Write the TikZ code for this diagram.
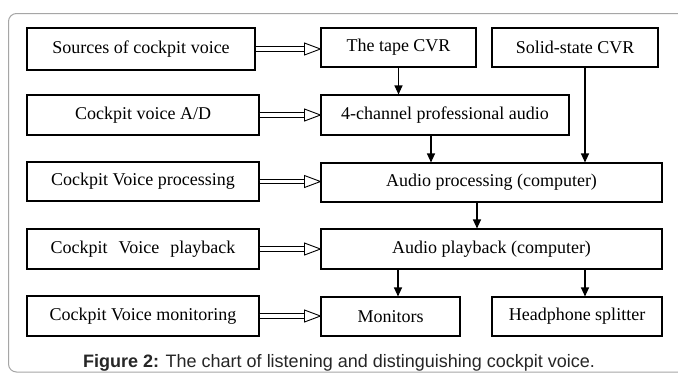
\documentclass[tikz,border=0pt]{standalone}
\usepackage{fontspec}
\setmainfont{Liberation Serif}
\newfontfamily\capfont{Liberation Sans}
\usetikzlibrary{arrows.meta}
\begin{document}
\begin{tikzpicture}[x=1pt,y=-1pt,
  box/.style={draw=black, line width=1.1pt, inner sep=0pt, font=\fontsize{18}{20}\selectfont, anchor=center},
  flow/.style={draw=black, line width=1.1pt, -{Triangle[length=9pt,width=8pt]}},
  dshaft/.style={draw=black, line width=0.9pt, double=white, double distance=3.6pt},
  dhead/.style={draw=black, line width=0.9pt, fill=white, line join=miter}
]
\useasboundingbox (0,0) rectangle (678,376);
\clip (0,0) rectangle (678,376);
\fill[white] (0,0) rectangle (678,376);
\draw[gray!70, line width=1pt, rounded corners=8pt] (8.5,13.5) rectangle (700,372);

% left column
\node[box, minimum width=228pt, minimum height=42pt] (src) at (141,49) {Sources of cockpit voice};
\node[box, minimum width=232pt, minimum height=40pt] (ad) at (143,115) {Cockpit voice A/D};
\node[box, minimum width=232pt, minimum height=39pt] (proc) at (143,181.5) {Cockpit Voice processing};
\node[box, minimum width=232pt, minimum height=40pt] (play) at (143,249) {Cockpit\hspace{6.5pt} Voice\hspace{6.5pt} playback};
\node[box, minimum width=232pt, minimum height=40pt] (mon) at (143,316) {Cockpit Voice monitoring};

% right column
\node[box, minimum width=155pt, minimum height=39pt] (tape) at (398.5,47.5) {The tape CVR};
\node[box, minimum width=166pt, minimum height=39pt] (solid) at (575,47.5) {Solid-state CVR};
\node[box, minimum width=248pt, minimum height=40pt] (ch4) at (445,115) {4-channel professional audio};
\node[box, minimum width=341pt, minimum height=39pt] (aproc) at (491.5,182.5) {Audio processing (computer)};
\node[box, minimum width=341pt, minimum height=40pt] (aplay) at (491.5,249) {Audio playback (computer)};
\node[box, minimum width=139pt, minimum height=39pt] (monitors) at (390.5,316.5) {Monitors};
\node[box, minimum width=170pt, minimum height=39pt] (hs) at (577,316.5) {Headphone splitter};

% hollow double arrows
\foreach \L/\R in {src/tape, ad/ch4, proc/aproc, play/aplay, mon/monitors}{
  \draw[dshaft] (\L.east) -- ([xshift=-14pt]\L.east -| \R.west);
  \draw[dhead] ([xshift=-16pt,yshift=6pt]\L.east -| \R.west) -- (\L.east -| \R.west) -- ([xshift=-16pt,yshift=-6pt]\L.east -| \R.west) -- cycle;
}

% single arrows
\draw[flow] (tape.south) -- (tape.south |- ch4.north);
\draw[flow] ([xshift=-14pt]ch4.south) -- ([xshift=-14pt]ch4.south |- aproc.north);
\draw[flow] ([xshift=10pt]solid.south) -- ([xshift=10pt]solid.south |- aproc.north);
\draw[flow] ([xshift=-14.5pt]aproc.south) -- ([xshift=-14.5pt]aproc.south |- aplay.north);
\draw[flow] ([xshift=7.5pt]monitors.north |- aplay.south) -- ([xshift=7.5pt]monitors.north);
\draw[flow] ([xshift=8pt]hs.north |- aplay.south) -- ([xshift=8pt]hs.north);

% caption
\node[font=\capfont\fontsize{18}{20}\selectfont, text=black!85, inner sep=0pt] (cap) at (339,363) {\textbf{Figure 2:} The chart of listening and distinguishing cockpit voice.};
\end{tikzpicture}
\end{document}
